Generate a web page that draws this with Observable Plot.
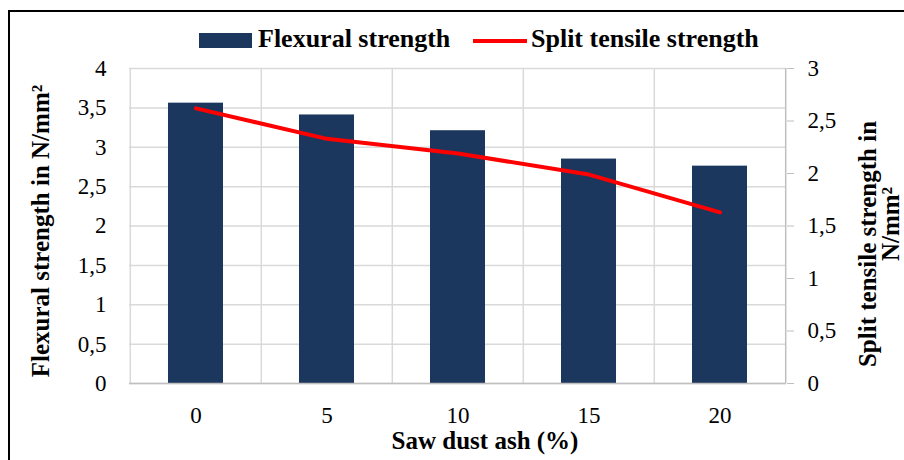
<!DOCTYPE html>
<html><head><meta charset="utf-8">
<script src="https://cdn.jsdelivr.net/npm/d3@7"></script>
<script src="https://cdn.jsdelivr.net/npm/@observablehq/plot@0.6"></script>
<style>
body{margin:0;overflow:hidden;background:#fff}
#wrap{position:relative;width:904px;height:460px;font-family:"Liberation Serif",serif;overflow:hidden}
#chart{position:absolute;left:0;top:0}
#border{position:absolute;left:8px;top:10px;width:920px;height:480px;border:2.5px solid #000;box-sizing:border-box;pointer-events:none}
.lg{position:absolute;font-weight:bold;font-size:26px;line-height:26px;white-space:nowrap;color:#000}
.sw{position:absolute}
</style></head>
<body>
<div id="wrap">
  <div id="chart"></div>
  <div id="border"></div>
  <div class="sw" style="left:199px;top:33px;width:53px;height:15px;background:#1c375e"></div>
  <div class="lg" style="left:258px;top:26px">Flexural strength</div>
  <div class="sw" style="left:473px;top:39px;width:54px;height:4px;background:#ff0000"></div>
  <div class="lg" style="left:531px;top:26px">Split tensile strength</div>
</div>
<script>
const categories = ["0", "5", "10", "15", "20"];
const flexural = [3.56, 3.41, 3.21, 2.85, 2.76];
const splitTensile = [2.62, 2.33, 2.19, 1.99, 1.63];
const leftTicks = [0, 0.5, 1, 1.5, 2, 2.5, 3, 3.5, 4];
const rightTicks = [0, 0.5, 1, 1.5, 2, 2.5, 3];

const leftMax = 4, rightMax = 3, k = leftMax / rightMax;
const comma = v => String(+v.toFixed(2)).replace(".", ",");
const data = categories.map((c, i) => ({cat: c, flex: flexural[i], split: splitTensile[i]}));

const W = 904, H = 460, mL = 129, mR = 118, mT = 68, mB = 77;
const step = (W - mL - mR) / categories.length;
const grid = "#d9d9d9";
const font = "Liberation Serif";

const plot = Plot.plot({
  width: W, height: H,
  marginLeft: mL, marginRight: mR, marginTop: mT, marginBottom: mB,
  style: {background: "transparent", color: "#000", fontFamily: font},
  x: {type: "band", domain: categories, paddingInner: 0.58, paddingOuter: 0.29},
  y: {domain: [0, leftMax]},
  marks: [
    Plot.gridY(leftTicks, {stroke: grid, strokeOpacity: 1, strokeWidth: 1.5}),
    Plot.ruleX(categories, {x: d => d, dx: -step / 2, stroke: grid, strokeWidth: 1.5}),
    Plot.ruleX(categories.slice(-1), {x: d => d, dx: step / 2, stroke: "#bfbfbf", strokeWidth: 1.5}),
    Plot.barY(data, {x: "cat", y: "flex", fill: "#1c375e"}),
    Plot.ruleY([0], {stroke: "#bfbfbf", strokeWidth: 1.5}),
    Plot.line(data, {x: "cat", y: d => d.split * k, stroke: "#ff0000", strokeWidth: 4, strokeLinecap: "round"}),
    Plot.axisY(leftTicks, {anchor: "left", tickSize: 0, tickPadding: 23, tickFormat: comma, fontSize: 23, fontFamily: font, label: null}),
    Plot.axisY(rightTicks.map(v => v * k), {anchor: "right", tickSize: 7, tickPadding: 14, stroke: "#bfbfbf", fill: "#000", tickFormat: d => comma(d / k), fontSize: 23, fontFamily: font, label: null}),
    Plot.axisX({tickSize: 0, tickPadding: 23, fontSize: 23, fontFamily: font, label: null}),
    Plot.text(["Flexural strength in N/mm²"], {frameAnchor: "left", textAnchor: "middle", lineAnchor: "middle", rotate: -90, dx: -89, dy: 5, fontSize: 25, fontWeight: "bold", fontFamily: font, fill: "#000"}),
    Plot.text(["Split tensile strength in"], {frameAnchor: "right", textAnchor: "middle", lineAnchor: "middle", rotate: -90, dx: 81, dy: 18, fontSize: 25, fontWeight: "bold", fontFamily: font, fill: "#000"}),
    Plot.text(["N/mm²"], {frameAnchor: "right", textAnchor: "middle", lineAnchor: "middle", rotate: -90, dx: 104, dy: -2, fontSize: 25, fontWeight: "bold", fontFamily: font, fill: "#000"}),
    Plot.text(["Saw dust ash (%)"], {frameAnchor: "bottom", textAnchor: "middle", lineAnchor: "middle", dx: 27, dy: 57, fontSize: 25, fontWeight: "bold", fontFamily: font, fill: "#000"})
  ]
});
// set the serif family on every text, then insert a serialized copy of Plot's SVG
plot.setAttribute("font-family", font);
plot.querySelectorAll("g, text").forEach(el => el.setAttribute("font-family", font));
document.getElementById("chart").innerHTML = plot.outerHTML;
</script>
</body></html>
